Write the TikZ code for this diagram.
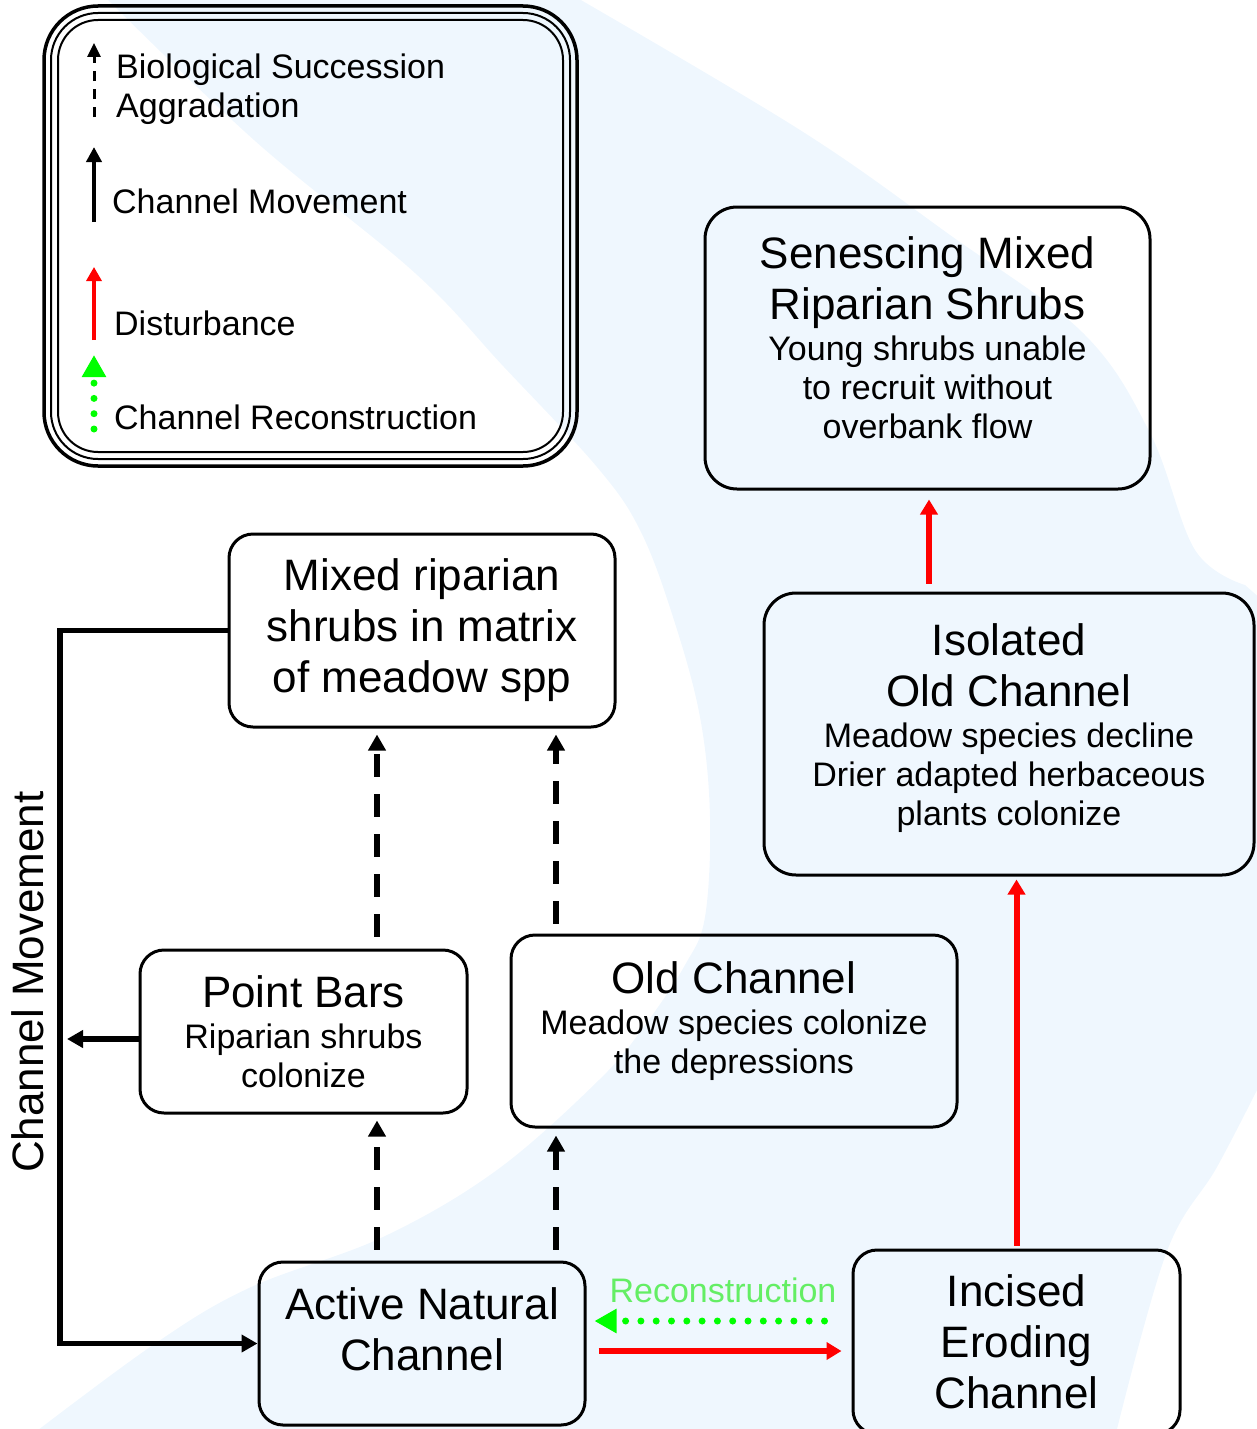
\documentclass[tikz,border=0pt]{standalone}
\usepackage{fontspec}
\setmainfont{Liberation Sans}
\usetikzlibrary{arrows.meta, positioning}

\definecolor{riverblue}{RGB}{239,247,254}
\definecolor{recongreen}{RGB}{100,238,100}
\newcommand{\ttl}{\fontsize{44}{52}\selectfont}
\newcommand{\sub}{\fontsize{34}{39}\selectfont\lineskiplimit=-100pt\relax}

\tikzset{
  state/.style={draw, line width=3pt, rounded corners=24pt, align=center, font=\sub, inner sep=0pt},
  legtext/.style={anchor=west, align=left, font=\sub, inner sep=0pt},
  succ/.style={line width=6pt, dash pattern=on 23pt off 17pt, -{Triangle[length=16pt,width=17pt]}},
  dist/.style={red, line width=6pt, -{Triangle[length=15pt,width=17pt]}},
  move/.style={line width=5.5pt, -{Triangle[length=16pt,width=17pt]}},
  recon/.style={green, line width=7pt, line cap=round, dash pattern=on 0pt off 15.3pt, -{Triangle[length=22pt,width=23pt]}},
}

\begin{document}
\begin{tikzpicture}[x=1pt, y=-1pt]
    \useasboundingbox (0,0) rectangle (1257,1429);

    % river band behind everything
    \begin{scope}
        \clip (0,0) rectangle (1257,1429);
        \fill[riverblue] plot[smooth, tension=0.6] coordinates {(100,-8) (254,140) (415,273) (504,367) (597,467) (640,530) (673,617) (700,717) (710,817) (705,917) (685,965) (645,1025) (600,1079) (497,1170) (383,1237) (249,1288) (153,1345) (25,1440)}
            -- (1110,1445)
            -- plot[smooth, tension=0.6] coordinates {(1117,1429) (1167,1251) (1217,1167) (1262,1080)}
            -- (1262,600)
            -- plot[smooth, tension=0.6] coordinates {(1245,585) (1195,550) (1150,433) (1083,333) (950,235) (800,130) (567,-8)}
            -- cycle;
    \end{scope}

    % legend
    \foreach \d/\r/\w in {0/54pt/3.5pt, 7/47pt/2pt, 14/40pt/2pt}
        \draw[line width=\w, rounded corners=\r] (44+\d,6+\d) rectangle (577-\d,466-\d);

    \coordinate (keysucc) at (94,117);  \coordinate (keysucctip) at (94,43);
    \coordinate (keymove) at (94,222);  \coordinate (keymovetip) at (94,147);
    \coordinate (keydist) at (94,340);  \coordinate (keydisttip) at (94,267);
    \coordinate (keyrecon) at (94,429); \coordinate (keyrecontip) at (94,355);
    \draw[succ, line width=3pt, dash pattern=on 10pt off 8pt, -{Triangle[length=14pt,width=13pt]}] (keysucc) -- (keysucctip);
    \draw[move, line width=4pt, -{Triangle[length=15pt,width=15pt]}] (keymove) -- (keymovetip);
    \draw[dist, line width=3.3pt, -{Triangle[length=14pt,width=15pt]}] (keydist) -- (keydisttip);
    \draw[recon] (keyrecon) -- (keyrecontip);

    \node[legtext] (lsucc) at (116,89) {Biological Succession\\Aggradation};
    \node[legtext] (lmove) at (112,201) {Channel Movement};
    \node[legtext] (ldist) at (114,323) {Disturbance};
    \node[legtext] (lrecon) at (114,417) {Channel Reconstruction};

    % states
    \node[state, minimum width=445pt, minimum height=282pt, rounded corners=32pt, text depth=20pt] (senes) at (927.5,348)
        {{\ttl Senescing Mixed}\\[12pt]{\ttl Riparian Shrubs}\\[2pt]Young shrubs unable\\to recruit without\\overbank flow};
    \node[state, minimum width=386pt, minimum height=193pt] (mixed) at (422,630.5)
        {{\ttl Mixed riparian}\\[12pt]{\ttl shrubs in matrix}\\[12pt]{\ttl of meadow spp}};
    \node[state, minimum width=490pt, minimum height=282pt, rounded corners=32pt, text depth=18pt] (isol) at (1009,734)
        {{\ttl Isolated}\\[12pt]{\ttl Old Channel}\\[2pt]Meadow species decline\\Drier adapted herbaceous\\plants colonize};
    \node[state, minimum width=327pt, minimum height=163pt] (pbars) at (303.5,1031.5)
        {{\ttl Point Bars}\\[2pt]Riparian shrubs\\colonize};
    \node[state, minimum width=446pt, minimum height=192pt, text depth=27pt] (oldch) at (734,1031)
        {{\ttl Old Channel}\\[2pt]Meadow species colonize\\the depressions};
    \node[state, minimum width=326pt, minimum height=163pt, text depth=29pt] (act) at (422,1343.5)
        {{\ttl Active Natural}\\[12pt]{\ttl Channel}};
    \node[state, minimum width=327pt, minimum height=184pt] (incis) at (1016.5,1342)
        {{\ttl Incised}\\[12pt]{\ttl Eroding}\\[12pt]{\ttl Channel}};

    % succession lanes
    \coordinate (lane1) at (377,0);
    \coordinate (lane2) at (556,0);
    \draw[succ, shorten <=12pt, shorten >=6pt] (pbars.north -| lane1) -- (mixed.south -| lane1);
    \draw[succ, shorten <=10pt, shorten >=6pt] (oldch.north -| lane2) -- (mixed.south -| lane2);
    \draw[succ, shorten <=11pt, shorten >=6pt] (act.north -| lane1) -- (pbars.south -| lane1);
    \draw[succ, shorten <=11pt, shorten >=7pt] (act.north -| lane2) -- (oldch.south -| lane2);

    % disturbance
    \coordinate (lane3) at (929,0);
    \coordinate (row1) at (0,1351);
    \coordinate (row2) at (0,1321);
    \draw[dist, shorten <=8pt, shorten >=9pt] (isol.north -| lane3) -- (senes.south -| lane3);
    \draw[dist, shorten <=3pt, shorten >=3pt] (incis.north) -- (isol.south -| incis.north);
    \draw[dist, shorten <=12pt, shorten >=10pt] (act.east |- row1) -- (incis.west |- row1);

    % reconstruction
    \draw[recon, shorten <=27pt, shorten >=8pt] (incis.west |- row2) -- (act.east |- row2);
    \node[text=recongreen, font=\sub, inner sep=0pt] (reclbl) at (723,1290) {Reconstruction};

    % channel movement
    \coordinate (cm) at (60,630.5);
    \coordinate (row3) at (0,1039);
    \draw[move] (mixed.west) -- (cm) |- (act.west);
    \draw[move, shorten >=7pt] (pbars.west |- row3) -- (cm |- row3);
    \node[font=\ttl, rotate=90, inner sep=0pt] (cmlbl) at (28,982) {Channel Movement};
\end{tikzpicture}
\end{document}
